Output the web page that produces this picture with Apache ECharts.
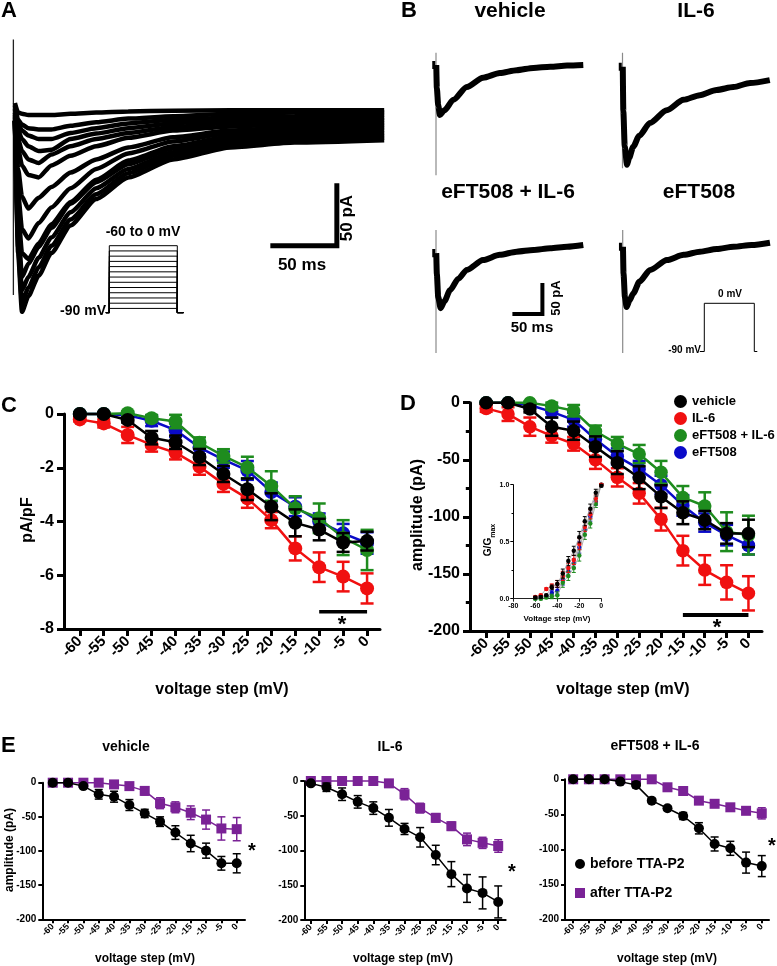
<!DOCTYPE html>
<html><head><meta charset="utf-8">
<script src="https://cdn.jsdelivr.net/npm/echarts@6/dist/echarts.min.js"></script>
<style>html,body{margin:0;padding:0;background:#fff}#c{width:777px;height:966px}</style>
</head><body><div id="c"></div>
<script>
// ---------------- DATA ----------------
const voltages = [-60,-55,-50,-45,-40,-35,-30,-25,-20,-15,-10,-5,0];

// Panel A: family of T-current traces (time in ms, current in pA relative to baseline)
const tA = [1.5, 4, 7, 12, 20, 30, 45, 65, 90, 125, 170, 220, 290];
const A_m60 = [20, 12, 11, 10, 10, 10, 11, 12, 13, 13.5, 14, 14, 14];
const A_m55 = [18, 6, 2, -1, -2, -2, 1, 4, 7, 9, 11, 12, 12];
const A_m50 = [15, 3, -3, -7, -10, -10, -5, -1, 3, 6, 8, 9, 10];
const A_m45 = [12, -3, -10, -16, -20, -19, -10, -5.5, -1, 3, 6, 7, 7.7];
const A_m40 = [10, -10, -20, -27, -30, -23, -16, -10, -5, 0, 3.5, 5, 5.7];
const A_m35 = [8, -18, -32, -40, -42, -32, -24, -16, -9, -3, 0.5, 2.5, 3.5];
const A_m30 = [6, -35, -58, -68, -59, -50, -38, -27, -17, -8.5, -3, 0, 1.5];
const A_m25 = [5, -55, -85, -93, -80, -67, -51, -35, -22, -12, -5, -2, -0.5];
const A_m20 = [5, -70, -105, -110, -97, -81, -62.5, -44, -28, -16, -8, -4.5, -2.7];
const A_m15 = [5, -82, -125, -114, -100, -84, -64, -46, -31, -18, -10, -7, -5];
const A_m10 = [5, -92, -136, -125, -109, -92, -71, -51, -35, -21, -13, -9, -7];
const A_m5  = [5, -100, -146, -134, -117, -99, -77, -56, -38.5, -24, -15, -11, -9];
const A_0   = [5, -105, -154, -141, -124, -105, -82, -60, -42, -27, -17, -13, -11];
const A_traces = [A_m60, A_m55, A_m50, A_m45, A_m40, A_m35, A_m30, A_m25, A_m20, A_m15, A_m10, A_m5, A_0];
const A_spikeTop = 73, A_spikeBottom = -140;
const protoHolding = -90;
const protoStepStart = 0, protoStepEnd = 100;

// Panel B: representative traces at 0 mV
const B_names = ['vehicle', 'IL-6', 'eFT508 + IL-6', 'eFT508'];
const B_vehicle_t = [1.5, 4, 7, 15, 31, 55, 84, 114, 144, 174, 204, 234, 263];
const B_vehicle_i = [-40, -70, -86, -78, -60, -38, -22, -14, -9, -5, -3, -1, 0];
const B_il6_t = [1.5, 4, 8, 12, 19, 30, 49, 79, 109, 138, 168, 198, 228, 263];
const B_il6_i = [-80, -140, -172, -160, -141, -122, -100, -78, -60, -52, -43, -38, -31, -26];
const B_eftil6_t = [1.5, 4, 8.3, 15, 25, 40, 55, 84, 114, 144, 174, 204, 234, 263];
const B_eftil6_i = [-50, -90, -109, -97, -78, -58, -43, -26, -17, -11.5, -8.6, -5.7, -3, 0];
const B_eft_t = [1.5, 4, 7, 12, 19, 30, 49, 79, 109, 138, 168, 198, 230, 263];
const B_eft_i = [-50, -90, -107, -96, -83, -63, -43, -26, -17, -11.5, -7, -3, 0, 4];
const B_hold = [0, -3, -14, -3];
const B_spikeTop = [21, 21, 26, 26];
const B_spikeBottom = [-190, -178, -186, -186];

// Panel C: current density (pA/pF), mean and SEM
const C_vehicle = [0, 0, -0.22, -0.88, -1.05, -1.6, -2.23, -2.8, -3.45, -4.05, -4.3, -4.78, -4.73];
const C_vehicle_err = [0.05, 0.05, 0.1, 0.25, 0.25, 0.3, 0.3, 0.4, 0.5, 0.5, 0.4, 0.35, 0.35];
const C_il6 = [-0.2, -0.35, -0.78, -1.15, -1.44, -1.96, -2.6, -3.14, -3.95, -5.0, -5.7, -6.05, -6.49];
const C_il6_err = [0.08, 0.15, 0.3, 0.25, 0.25, 0.3, 0.3, 0.35, 0.3, 0.45, 0.55, 0.55, 0.56];
const C_eftil6 = [0, 0, 0.03, -0.16, -0.28, -1.07, -1.56, -1.99, -2.68, -3.51, -3.88, -4.6, -5.06];
const C_eftil6_err = [0.05, 0.05, 0.08, 0.12, 0.25, 0.2, 0.25, 0.4, 0.55, 0.45, 0.55, 0.65, 0.75];
const C_eft = [0, 0, -0.05, -0.25, -0.6, -1.25, -1.7, -2.1, -2.9, -3.45, -4.0, -4.44, -4.8];
const C_eft_err = [0.05, 0.05, 0.08, 0.2, 0.25, 0.25, 0.3, 0.35, 0.35, 0.35, 0.3, 0.35, 0.4];
const C_sig = [-10, 0];
const C_sigLevel = -7.36;

// Panel D: amplitude (pA)
const D_vehicle = [0, 0, -5.5, -21, -24.5, -38.5, -52.5, -65.7, -82.3, -96.4, -102.8, -114.5, -114.5];
const D_vehicle_err = [1, 1, 3, 8, 8, 9, 10, 10, 10, 10, 8, 9, 12];
const D_il6 = [-5, -10, -21, -29, -36, -50, -65.4, -79.4, -102, -129.6, -146.6, -157.4, -167];
const D_il6_err = [3, 6, 8, 6, 6, 8, 8, 9, 10, 13, 13, 15, 15];
const D_eftil6 = [0, 0, 0, -3, -7, -25, -36, -45, -61, -83, -90.5, -113, -116];
const D_eftil6_err = [1, 1, 1, 3, 5, 5, 6, 8, 10, 10, 12, 17, 17];
const D_eft = [0, 0, -2, -8, -15, -32, -47, -58, -72, -90, -105, -116, -125];
const D_eft_err = [1, 1, 2, 5, 6, 6, 7, 7, 8, 9, 8, 9, 8];
const D_sig = [-15, 0];
const D_sigLevel = -186;

// Panel D inset: G/Gmax
const G_vehicle = [0.01, 0.015, 0.03, 0.1, 0.13, 0.22, 0.33, 0.42, 0.54, 0.68, 0.79, 0.93, 0.99];
const G_il6 = [0.015, 0.03, 0.085, 0.11, 0.13, 0.2, 0.27, 0.34, 0.48, 0.63, 0.74, 0.88, 1.0];
const G_eftil6 = [0, 0, 0.01, 0.02, 0.03, 0.14, 0.2, 0.27, 0.38, 0.56, 0.66, 0.83, 1.0];
const G_eft = [0.005, 0.01, 0.02, 0.05, 0.07, 0.16, 0.24, 0.31, 0.45, 0.6, 0.72, 0.85, 1.0];
const G_err = [0.01, 0.01, 0.01, 0.02, 0.03, 0.04, 0.04, 0.04, 0.05, 0.04, 0.04, 0.03, 0.01];

// Panel E: before / after TTA-P2
const E_titles = ['vehicle', 'IL-6', 'eFT508 + IL-6'];
const E1_before = [0, 0, -5, -17, -20.5, -32.7, -45, -57, -73, -89, -99.5, -118, -118];
const E1_before_err = [1, 1, 2, 7, 8, 8, 6, 7, 10, 12, 11, 10, 14];
const E1_after = [0, 0, 0, 0, -2.5, -5, -12, -30, -36, -44, -54, -67, -68];
const E1_after_err = [1, 1, 1, 1, 2, 3, 6, 8, 8, 10, 14, 17, 17];
const E2_before = [-3.4, -9, -19, -30, -39, -53, -69, -81, -106.5, -134, -154.6, -161, -174];
const E2_before_err = [2, 6, 9, 9, 9, 12, 8, 14, 14, 18, 20, 23, 23];
const E2_after = [0, 0, 0, 0, 0, -3.4, -19, -39, -53, -65, -84, -89, -93.5];
const E2_after_err = [1, 1, 1, 1, 1, 2, 8, 7, 6, 6, 9, 8, 9];
const E3_before = [0, 0, 0, -3.3, -8, -30.5, -41.4, -52.4, -70, -92.4, -98.6, -119, -124];
const E3_before_err = [1, 1, 1, 2, 4, 3, 3, 5, 8, 10, 10, 15, 15];
const E3_after = [0, 0, 0, 0, 0, 0, -11.4, -16.7, -30.5, -35, -40, -45, -48.6];
const E3_after_err = [1, 1, 1, 1, 1, 1, 4, 5, 5, 4, 5, 5, 8];

// ---------------- STYLE ----------------
const FONT = "'Liberation Sans', Arial, Helvetica, sans-serif";
const COL = { vehicle: '#000000', il6: '#f01010', eftil6: '#1e8c1e', eft: '#0a0ac8', after: '#7a2296' };

const grids = [
  {left: 13, top: 19, width: 384, height: 312},          // 0 A traces
  {left: 102.5, top: 245.7, width: 81.6, height: 66.9},  // 1 A protocol
  {left: 430.4, top: 41.8, width: 156.8, height: 139.2}, // 2 B vehicle
  {left: 616.9, top: 41.8, width: 156.8, height: 139.2}, // 3 B IL-6
  {left: 430.4, top: 221.8, width: 156.8, height: 139.2},// 4 B eFT508+IL-6
  {left: 617.1, top: 221.8, width: 156.8, height: 139.2},// 5 B eFT508
  {left: 699.3, top: 303.3, width: 60, height: 48.2},    // 6 B protocol
  {left: 64, top: 414, width: 316, height: 215},         // 7 C
  {left: 470, top: 402.7, width: 292, height: 228.3},    // 8 D
  {left: 513.3, top: 484.7, width: 88, height: 114},     // 9 inset
  {left: 42.3, top: 782.7, width: 202.7, height: 136.6}, // 10 E1
  {left: 304.3, top: 781, width: 201.4, height: 139},    // 11 E2
  {left: 565, top: 779.3, width: 204, height: 140}       // 12 E3
];

const xAxes = [], yAxes = [];
function hidden(gi, xmin, xmax, ymin, ymax) {
  xAxes.push({type: 'value', gridIndex: gi, min: xmin, max: xmax, show: false});
  yAxes.push({type: 'value', gridIndex: gi, min: ymin, max: ymax, show: false});
}
hidden(0, 0, 300, -170, 90);
hidden(1, -10, 110, -64, 0);
for (let g = 2; g <= 5; g++) hidden(g, -10, 270, -200, 40);
hidden(6, -10, 110, -90, 0);

function visX(gi, min, max, o) {
  return {type: 'value', gridIndex: gi, min, max,
    axisLine: {show: true, onZero: false, lineStyle: {color: '#000', width: o.lw}},
    axisTick: {show: true, customValues: o.ticks || voltages, length: o.tl, lineStyle: {color: '#000', width: o.lw}},
    axisLabel: {customValues: o.ticks || voltages, rotate: o.rot, fontSize: o.fs, fontWeight: 'bold', color: '#000', fontFamily: FONT, margin: o.m},
    splitLine: {show: false}};
}
function visY(gi, min, max, interval, o) {
  return {type: 'value', gridIndex: gi, min, max, interval,
    axisLine: {show: true, onZero: false, lineStyle: {color: '#000', width: o.lw}},
    axisTick: {show: true, length: o.tl, lineStyle: {color: '#000', width: o.lw}},
    minorTick: {show: !!o.minor, splitNumber: 2, length: o.tl * 0.6, lineStyle: {color: '#000', width: o.lw}},
    axisLabel: {fontSize: o.fs, fontWeight: 'bold', color: '#000', fontFamily: FONT, margin: o.m, formatter: o.fmt},
    splitLine: {show: false}};
}
// C
xAxes.push(visX(7, -63.3, 2.7, {lw: 3, tl: 7, rot: 45, fs: 15, m: 10}));
yAxes.push(visY(7, -8, 0, 2, {lw: 3, tl: 7, fs: 16, m: 10}));
// D
xAxes.push(visX(8, -63.7, 3.1, {lw: 3, tl: 7, rot: 45, fs: 15, m: 10}));
yAxes.push(visY(8, -200, 0, 50, {lw: 3, tl: 7, fs: 16, m: 10, minor: true}));
// inset
xAxes.push({type: 'value', gridIndex: 9, min: -80, max: 0, interval: 20,
  axisLine: {show: true, onZero: false, lineStyle: {color: '#222', width: 1}},
  axisTick: {show: true, length: 3, lineStyle: {color: '#222', width: 1}},
  axisLabel: {fontSize: 7, fontWeight: 'bold', color: '#000', fontFamily: FONT, margin: 4}, splitLine: {show: false}});
yAxes.push(visY(9, 0, 1, 0.5, {lw: 1, tl: 3, fs: 7, m: 4, minor: true, fmt: v => v.toFixed(1)}));
// E
const E_ranges = [[-63.4, 2.7], [-62.1, 2.4], [-62.6, 2.3]];
E_ranges.forEach((r, k) => {
  xAxes.push(visX(10 + k, r[0], r[1], {lw: 2, tl: 4, rot: 45, fs: 9, m: 6}));
  yAxes.push(visY(10 + k, -200, 0, 50, {lw: 2, tl: 4, fs: 10, m: 6}));
});

// ---------------- SERIES ----------------
const series = [];
// A capacitive transient (thin)
series.push({type: 'line', xAxisIndex: 0, yAxisIndex: 0, data: [[0.3, A_spikeTop], [0.3, A_spikeBottom]],
  showSymbol: false, lineStyle: {color: '#222', width: 1.3}, z: 2, silent: true, clip: false});
// A traces (thick strokes stand in for the noisy recording band)
A_traces.forEach(arr => {
  series.push({type: 'line', xAxisIndex: 0, yAxisIndex: 0, data: tA.map((t, i) => [t, arr[i]]),
    showSymbol: false, smooth: 0.2, smoothMonotone: 'x', lineStyle: {color: '#000', width: 4.5}, z: 2, silent: true, clip: false});
});
// A scale bar (50 ms x 50 pA)
series.push({type: 'line', xAxisIndex: 0, yAxisIndex: 0, data: [[203, -99], [253, -99], [253, -49]],
  showSymbol: false, lineStyle: {color: '#000', width: 5, join: 'miter', cap: 'square'}, z: 3, silent: true});
// A protocol
voltages.forEach(v => {
  series.push({type: 'line', xAxisIndex: 1, yAxisIndex: 1,
    data: [[-5, -64], [protoStepStart, -64], [protoStepStart, v], [protoStepEnd, v], [protoStepEnd, -64], [109, -64]],
    showSymbol: false, lineStyle: {color: '#000', width: 1}, z: 3, silent: true, clip: false});
});
// B traces
const B_t = [B_vehicle_t, B_il6_t, B_eftil6_t, B_eft_t];
const B_i = [B_vehicle_i, B_il6_i, B_eftil6_i, B_eft_i];
for (let k = 0; k < 4; k++) {
  const g = 2 + k;
  series.push({type: 'line', xAxisIndex: g, yAxisIndex: g, data: [[0, B_spikeTop[k]], [0, B_spikeBottom[k]]],
    showSymbol: false, lineStyle: {color: '#8a8a8a', width: 1.2}, z: 2, silent: true, clip: false});
  series.push({type: 'line', xAxisIndex: g, yAxisIndex: g, data: [[-4, B_hold[k] + 7], [-4, B_hold[k] - 7]],
    showSymbol: false, lineStyle: {color: '#000', width: 3}, z: 2, silent: true, clip: false});
  const d = [[0.5, B_hold[k]]].concat(B_t[k].map((t, i) => [t, B_i[k][i]]));
  series.push({type: 'line', xAxisIndex: g, yAxisIndex: g, data: d,
    showSymbol: false, smooth: 0.25, smoothMonotone: 'x', lineStyle: {color: '#000', width: 6}, z: 3, silent: true, clip: false});
}
// B scale bar
series.push({type: 'line', xAxisIndex: 4, yAxisIndex: 4, data: [[140, -119], [190, -119], [190, -69]],
  showSymbol: false, lineStyle: {color: '#000', width: 4, join: 'miter', cap: 'square'}, z: 3, silent: true});
// B protocol
series.push({type: 'line', xAxisIndex: 6, yAxisIndex: 6,
  data: [[-9, protoHolding], [protoStepStart, protoHolding], [protoStepStart, 0], [protoStepEnd, 0], [protoStepEnd, protoHolding], [106, protoHolding]],
  showSymbol: false, lineStyle: {color: '#000', width: 1}, z: 3, silent: true, clip: false});

function errRender(color, lw, cap) {
  return function (params, api) {
    const x = api.value(0), lo = api.value(1), hi = api.value(2);
    const p1 = api.coord([x, lo]), p2 = api.coord([x, hi]);
    const st = {stroke: color, lineWidth: lw};
    return {type: 'group', children: [
      {type: 'line', shape: {x1: p1[0], y1: p1[1], x2: p2[0], y2: p2[1]}, style: st},
      {type: 'line', shape: {x1: p1[0] - cap / 2, y1: p1[1], x2: p1[0] + cap / 2, y2: p1[1]}, style: st},
      {type: 'line', shape: {x1: p2[0] - cap / 2, y1: p2[1], x2: p2[0] + cap / 2, y2: p2[1]}, style: st}
    ]};
  };
}
function group(gi, name, mean, err, color, o) {
  series.push({type: 'custom', xAxisIndex: gi, yAxisIndex: gi, renderItem: errRender(color, o.elw, o.cap),
    data: voltages.map((v, i) => [v, mean[i] - err[i], mean[i] + err[i]]), encode: {x: 0, y: [1, 2]},
    z: o.z, silent: true, clip: false});
  series.push({type: 'line', name, xAxisIndex: gi, yAxisIndex: gi, data: voltages.map((v, i) => [v, mean[i]]),
    symbol: o.sym || 'circle', symbolSize: o.ss, itemStyle: {color}, lineStyle: {color: o.lc || color, width: o.lw},
    z: o.z, silent: true, clip: false});
}
// C
const cO = {elw: 2.5, cap: 13, ss: 14, lw: 2.5};
group(7, 'eFT508', C_eft, C_eft_err, COL.eft, {...cO, z: 2});
group(7, 'eFT508 + IL-6', C_eftil6, C_eftil6_err, COL.eftil6, {...cO, z: 3});
group(7, 'IL-6', C_il6, C_il6_err, COL.il6, {...cO, z: 4});
group(7, 'vehicle', C_vehicle, C_vehicle_err, COL.vehicle, {...cO, z: 5});
series.push({type: 'line', xAxisIndex: 7, yAxisIndex: 7, data: C_sig.map(x => [x, C_sigLevel]),
  showSymbol: false, lineStyle: {color: '#000', width: 3.5}, z: 6, silent: true, clip: false});
// D
const dO = {elw: 2.5, cap: 13, ss: 13.5, lw: 2.5};
group(8, 'eFT508', D_eft, D_eft_err, COL.eft, {...dO, z: 2});
group(8, 'eFT508 + IL-6', D_eftil6, D_eftil6_err, COL.eftil6, {...dO, z: 3});
group(8, 'IL-6', D_il6, D_il6_err, COL.il6, {...dO, z: 4});
group(8, 'vehicle', D_vehicle, D_vehicle_err, COL.vehicle, {...dO, z: 5});
series.push({type: 'line', xAxisIndex: 8, yAxisIndex: 8, data: D_sig.map(x => [x, D_sigLevel]),
  showSymbol: false, lineStyle: {color: '#000', width: 4}, z: 6, silent: true, clip: false});
// inset
const iO = {elw: 1, cap: 4, ss: 4.5, lw: 0.8, lc: '#9a9a9a'};
group(9, 'eFT508', G_eft, G_err, COL.eft, {...iO, z: 7});
group(9, 'eFT508 + IL-6', G_eftil6, G_err, COL.eftil6, {...iO, z: 8});
group(9, 'IL-6', G_il6, G_err, COL.il6, {...iO, z: 9});
group(9, 'vehicle', G_vehicle, G_err, COL.vehicle, {...iO, z: 10});
// E
const E_before = [E1_before, E2_before, E3_before], E_before_err = [E1_before_err, E2_before_err, E3_before_err];
const E_after = [E1_after, E2_after, E3_after], E_after_err = [E1_after_err, E2_after_err, E3_after_err];
for (let k = 0; k < 3; k++) {
  group(10 + k, 'after TTA-P2', E_after[k], E_after_err[k], COL.after, {elw: 1.5, cap: 8, ss: 10, lw: 1.5, sym: 'rect', z: 2});
  group(10 + k, 'before TTA-P2', E_before[k], E_before_err[k], '#000', {elw: 1.5, cap: 8, ss: 10, lw: 1.5, z: 3});
}

// ---------------- TEXT ----------------
function T(text, x, y, size, o = {}) {
  return {type: 'text', x, y, rotation: o.rot || 0, z: 100, silent: true,
    style: {text, x: 0, y: 0, font: `bold ${size}px ${FONT}`, align: o.align || 'center', verticalAlign: 'middle', fill: '#000', rich: o.rich}};
}
const R90 = Math.PI / 2;
const graphics = [
  T('A', 1, 11, 22, {align: 'left'}),
  T('B', 401, 11, 22, {align: 'left'}),
  T(B_names[0], 510, 11, 21), T(B_names[1], 696, 11, 21),
  T(B_names[2], 508, 192, 21), T(B_names[3], 699, 192, 21),
  T('-60 to 0 mV', 143, 232, 14), T('-90 mV', 106, 311, 14, {align: 'right'}),
  T('50 pA', 347, 218, 17, {rot: R90}), T('50 ms', 302, 265, 17),
  T('50 pA', 556, 298, 13, {rot: R90}), T('50 ms', 532, 328, 15),
  T('0 mV', 730, 294, 10), T('-90 mV', 701, 350, 10, {align: 'right'}),
  T('C', 1, 406, 22, {align: 'left'}), T('D', 400, 404, 22, {align: 'left'}),
  T('pA/pF', 28, 520, 16, {rot: R90}), T('amplitude (pA)', 418, 515, 16, {rot: R90}),
  T('voltage step (mV)', 222, 690, 16), T('voltage step (mV)', 623, 690, 16),
  T('*', 342, 625, 22), T('*', 717, 628, 22),
  {type: 'text', x: 490, y: 540, rotation: R90, z: 100, silent: true,
   style: {text: '{a|G/G}{b|max}', x: 0, y: 0, align: 'center', verticalAlign: 'middle', fill: '#000',
     rich: {a: {fontFamily: FONT, fontWeight: 'bold', fontSize: 10, lineHeight: 14, verticalAlign: 'top'},
            b: {fontFamily: FONT, fontWeight: 'bold', fontSize: 7, lineHeight: 14, verticalAlign: 'bottom', padding: [5, 0, 0, 0]}}}},
  T('Voltage step (mV)', 557, 619, 8),
  T('E', 1, 746, 22, {align: 'left'}),
  T(E_titles[0], 126, 747, 14), T(E_titles[1], 390, 747, 14), T(E_titles[2], 655, 746, 14),
  T('amplitude (pA)', 10, 850, 12, {rot: R90}),
  T('voltage step (mV)', 145, 959, 12), T('voltage step (mV)', 403, 959, 12), T('voltage step (mV)', 667, 959, 12),
  T('*', 252, 851, 20), T('*', 512, 872, 20), T('*', 772, 846, 20)
];

const chart = echarts.init(document.getElementById('c'), null, {renderer: 'canvas'});
chart.setOption({
  animation: false,
  backgroundColor: '#fff',
  grid: grids,
  xAxis: xAxes,
  yAxis: yAxes,
  legend: [
    {data: ['vehicle', 'IL-6', 'eFT508 + IL-6', 'eFT508'], orient: 'vertical', left: 669, top: 390,
     itemWidth: 13, itemHeight: 13, itemGap: 4, icon: 'circle', selectedMode: false,
     textStyle: {fontFamily: FONT, fontWeight: 'bold', fontSize: 13, color: '#000'}},
    {data: [{name: 'before TTA-P2', icon: 'circle'}, {name: 'after TTA-P2', icon: 'rect'}], orient: 'vertical', left: 570, top: 852,
     itemWidth: 10, itemHeight: 10, itemGap: 15, selectedMode: false,
     textStyle: {fontFamily: FONT, fontWeight: 'bold', fontSize: 14, color: '#000'}}
  ],
  graphic: graphics,
  series
});
</script></body></html>
